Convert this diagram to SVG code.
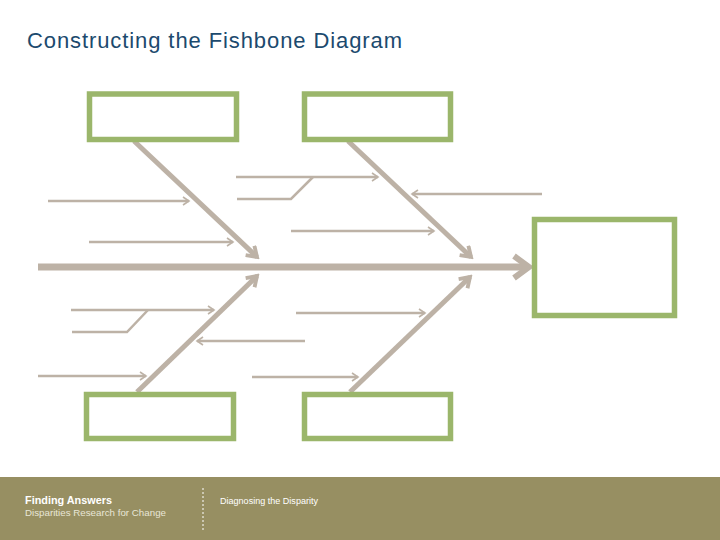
<svg xmlns="http://www.w3.org/2000/svg" width="720" height="540" viewBox="0 0 720 540">
<defs>
<style>
.box{fill:#fff;stroke:#9bb66b;stroke-width:5.5}
.bone{stroke:#bdb2a6;stroke-width:5;fill:none}
.spine{stroke:#bdb2a6;stroke-width:7;fill:none}
.rib{stroke:#bdb2a6;stroke-width:2.5;fill:none}
.head{stroke:#bdb2a6;fill:none;stroke-linejoin:miter;stroke-linecap:butt}
</style>
<marker id="sm" viewBox="0 0 10 10" refX="8" refY="5" markerWidth="4" markerHeight="4" orient="auto" markerUnits="strokeWidth">
<path d="M2,1 L8,5 L2,9" fill="none" stroke="#bdb2a6" stroke-width="1.6"/>
</marker>
<marker id="bm" viewBox="0 0 10 10" refX="8" refY="5" markerWidth="3.2" markerHeight="3.2" orient="auto" markerUnits="strokeWidth">
<path d="M2,1 L8,5 L2,9" fill="none" stroke="#bdb2a6" stroke-width="2.4"/>
</marker>
</defs>
<rect width="720" height="540" fill="#fff"/>
<text x="27" y="48" font-family="Liberation Sans, Arial, sans-serif" font-size="22" fill="#1c4a6e" textLength="375" lengthAdjust="spacing">Constructing the Fishbone Diagram</text>

<g id="connectors">
<line class="spine" x1="38" y1="267" x2="527" y2="267"/>
<path class="head" d="M514,256 L529,267 L514,278" stroke-width="6"/>
<line class="bone" x1="134" y1="141" x2="257" y2="257" marker-end="url(#bm)"/>
<line class="bone" x1="348" y1="141" x2="471" y2="257" marker-end="url(#bm)"/>
<line class="bone" x1="137" y1="392" x2="257" y2="276" marker-end="url(#bm)"/>
<line class="bone" x1="350" y1="392" x2="470" y2="277" marker-end="url(#bm)"/>

<line class="rib" x1="48" y1="201" x2="189" y2="201" marker-end="url(#sm)"/>
<line class="rib" x1="89" y1="242" x2="233" y2="242" marker-end="url(#sm)"/>
<line class="rib" x1="236" y1="177" x2="378" y2="177" marker-end="url(#sm)"/>
<polyline class="rib" points="237,199 291,199 313,177"/>
<line class="rib" x1="542" y1="194" x2="412" y2="194" marker-end="url(#sm)"/>
<line class="rib" x1="291" y1="231" x2="434" y2="231" marker-end="url(#sm)"/>

<line class="rib" x1="71" y1="310" x2="214" y2="310" marker-end="url(#sm)"/>
<polyline class="rib" points="72,332 127,332 148,310"/>
<line class="rib" x1="305" y1="341" x2="197" y2="341" marker-end="url(#sm)"/>
<line class="rib" x1="38" y1="376" x2="146" y2="376" marker-end="url(#sm)"/>
<line class="rib" x1="296" y1="313" x2="425" y2="313" marker-end="url(#sm)"/>
<line class="rib" x1="252" y1="377" x2="358" y2="377" marker-end="url(#sm)"/>
</g>

<g id="box-top-left"><rect class="box" x="89.5" y="94" width="147" height="45.5"/></g>
<g id="box-top-right"><rect class="box" x="304.5" y="94" width="146" height="45.5"/></g>
<g id="box-bottom-left"><rect class="box" x="86.5" y="394.5" width="147" height="44"/></g>
<g id="box-bottom-right"><rect class="box" x="304.5" y="394.5" width="146" height="44"/></g>
<g id="box-effect"><rect class="box" x="534.5" y="219.5" width="140" height="96"/></g>

<g id="footer">
<rect x="0" y="477" width="720" height="63" fill="#978f62"/>
<line x1="203" y1="488" x2="203" y2="530" stroke="#fff" stroke-width="1" stroke-dasharray="2,2"/>
<text x="25" y="504" font-family="Liberation Sans, Arial, sans-serif" font-size="10.5" font-weight="bold" fill="#fff" textLength="87" lengthAdjust="spacingAndGlyphs">Finding Answers</text>
<text x="25" y="516" font-family="Liberation Sans, Arial, sans-serif" font-size="9.8" fill="#e8e6d6" textLength="141" lengthAdjust="spacingAndGlyphs">Disparities Research for Change</text>
<text x="220" y="504" font-family="Liberation Sans, Arial, sans-serif" font-size="8.5" fill="#fff" textLength="98" lengthAdjust="spacingAndGlyphs">Diagnosing the Disparity</text>
</g>
</svg>
